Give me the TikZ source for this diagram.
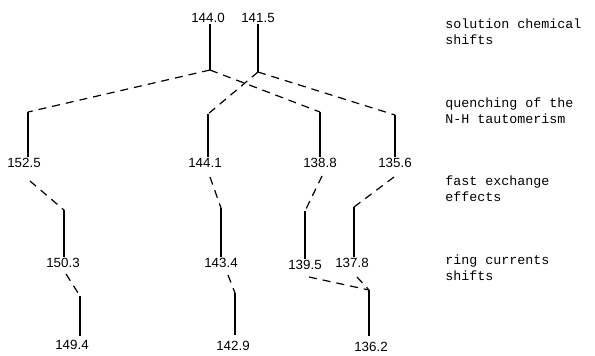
\documentclass[tikz,border=0pt]{standalone}
\usepackage{fontspec}
\setmainfont{Liberation Sans}
\setmonofont{Liberation Mono}
\usetikzlibrary{calc}

\tikzset{
  val/.style={inner sep=1pt, font=\fontsize{10}{12}\selectfont},
  cause/.style={anchor=west, align=left, inner sep=0pt, font=\ttfamily\fontsize{10}{12}\selectfont},
  stem/.style={line width=0.8pt},
  link/.style={line width=0.9pt, dash pattern=on 6pt off 4.5pt}
}

\begin{document}
\begin{tikzpicture}[x=0.75pt,y=-0.75pt]
  \useasboundingbox (0,0) rectangle (595,355);
  % solution values
  \node[val] (a1) at (208,18) {144.0};
  \node[val] (a2) at (258,18) {141.5};
  \coordinate (a1b) at (210,70);
  \coordinate (a2b) at (258,72);
  \draw[stem] (a1b |- a1.south) -- (a1b);
  \draw[stem] (a2b |- a2.south) -- (a2b);

  % quenching of the tautomerism
  \node[val] (b1) at (24,163) {152.5};
  \node[val] (b2) at (205,163) {144.1};
  \node[val] (b3) at (320,163) {138.8};
  \node[val] (b4) at (395,163) {135.6};
  \coordinate (b1t) at (28,112);
  \coordinate (b2t) at (208,114);
  \coordinate (b3t) at (320,112);
  \coordinate (b4t) at (395,115);
  \draw[link] (a1b) -- (b1t);
  \draw[link] (a1b) -- (b3t);
  \draw[link] (a2b) -- (b2t);
  \draw[link] (a2b) -- (b4t);
  \draw[stem] (b1t) -- (b1t |- b1.north);
  \draw[stem] (b2t) -- (b2t |- b2.north);
  \draw[stem] (b3t) -- (b3t |- b3.north);
  \draw[stem] (b4t) -- (b4t |- b4.north);

  % fast exchange
  \node[val] (c1) at (63,263) {150.3};
  \node[val] (c2) at (221,263) {143.4};
  \node[val] (c3) at (305,265) {139.5};
  \node[val] (c4) at (352,263) {137.8};
  \coordinate (b1s) at (30,181);
  \coordinate (b2s) at (210,177);
  \coordinate (b3s) at (322,176);
  \coordinate (b4s) at (394,177);
  \coordinate (c1t) at (64,210);
  \coordinate (c2t) at (221,208);
  \coordinate (c3t) at (305,211);
  \coordinate (c4t) at (354,207);
  \draw[link] (b1s) -- (c1t);
  \draw[link] (b2s) -- (c2t);
  \draw[link] (b3s) -- (c3t);
  \draw[link] (b4s) -- (c4t);
  \draw[stem] (c1t) -- (c1t |- c1.north);
  \draw[stem] (c2t) -- (c2t |- c2.north);
  \draw[stem] (c3t) -- (c3t |- c3.north);
  \draw[stem] (c4t) -- (c4t |- c4.north);

  % ring currents
  \node[val] (d1) at (72,345) {149.4};
  \node[val] (d2) at (233,346) {142.9};
  \node[val] (d3) at (371,347) {136.2};
  \coordinate (c1s) at (66,274);
  \coordinate (c2s) at (228,275);
  \coordinate (c3s) at (309,277);
  \coordinate (c4s) at (357,277);
  \coordinate (d1t) at (80,296);
  \coordinate (d2t) at (235,293);
  \coordinate (d3t) at (369,290);
  \draw[link] (c1s) -- (d1t);
  \draw[link] (c2s) -- (d2t);
  \draw[link] (c3s) -- (d3t);
  \draw[link] (c4s) -- (d3t);
  \draw[stem] (d1t) -- (80,336);
  \draw[stem] (d2t) -- (235,335);
  \draw[stem] (d3t) -- (369,336);

  % right column
  \node[cause] (r1) at (445,32) {solution chemical\\shifts};
  \node[cause] (r2) at (445,111) {quenching of the\\N-H tautomerism};
  \node[cause] (r3) at (445,189) {fast exchange\\effects};
  \node[cause] (r4) at (445,268) {ring currents\\shifts};
\end{tikzpicture}
\end{document}
